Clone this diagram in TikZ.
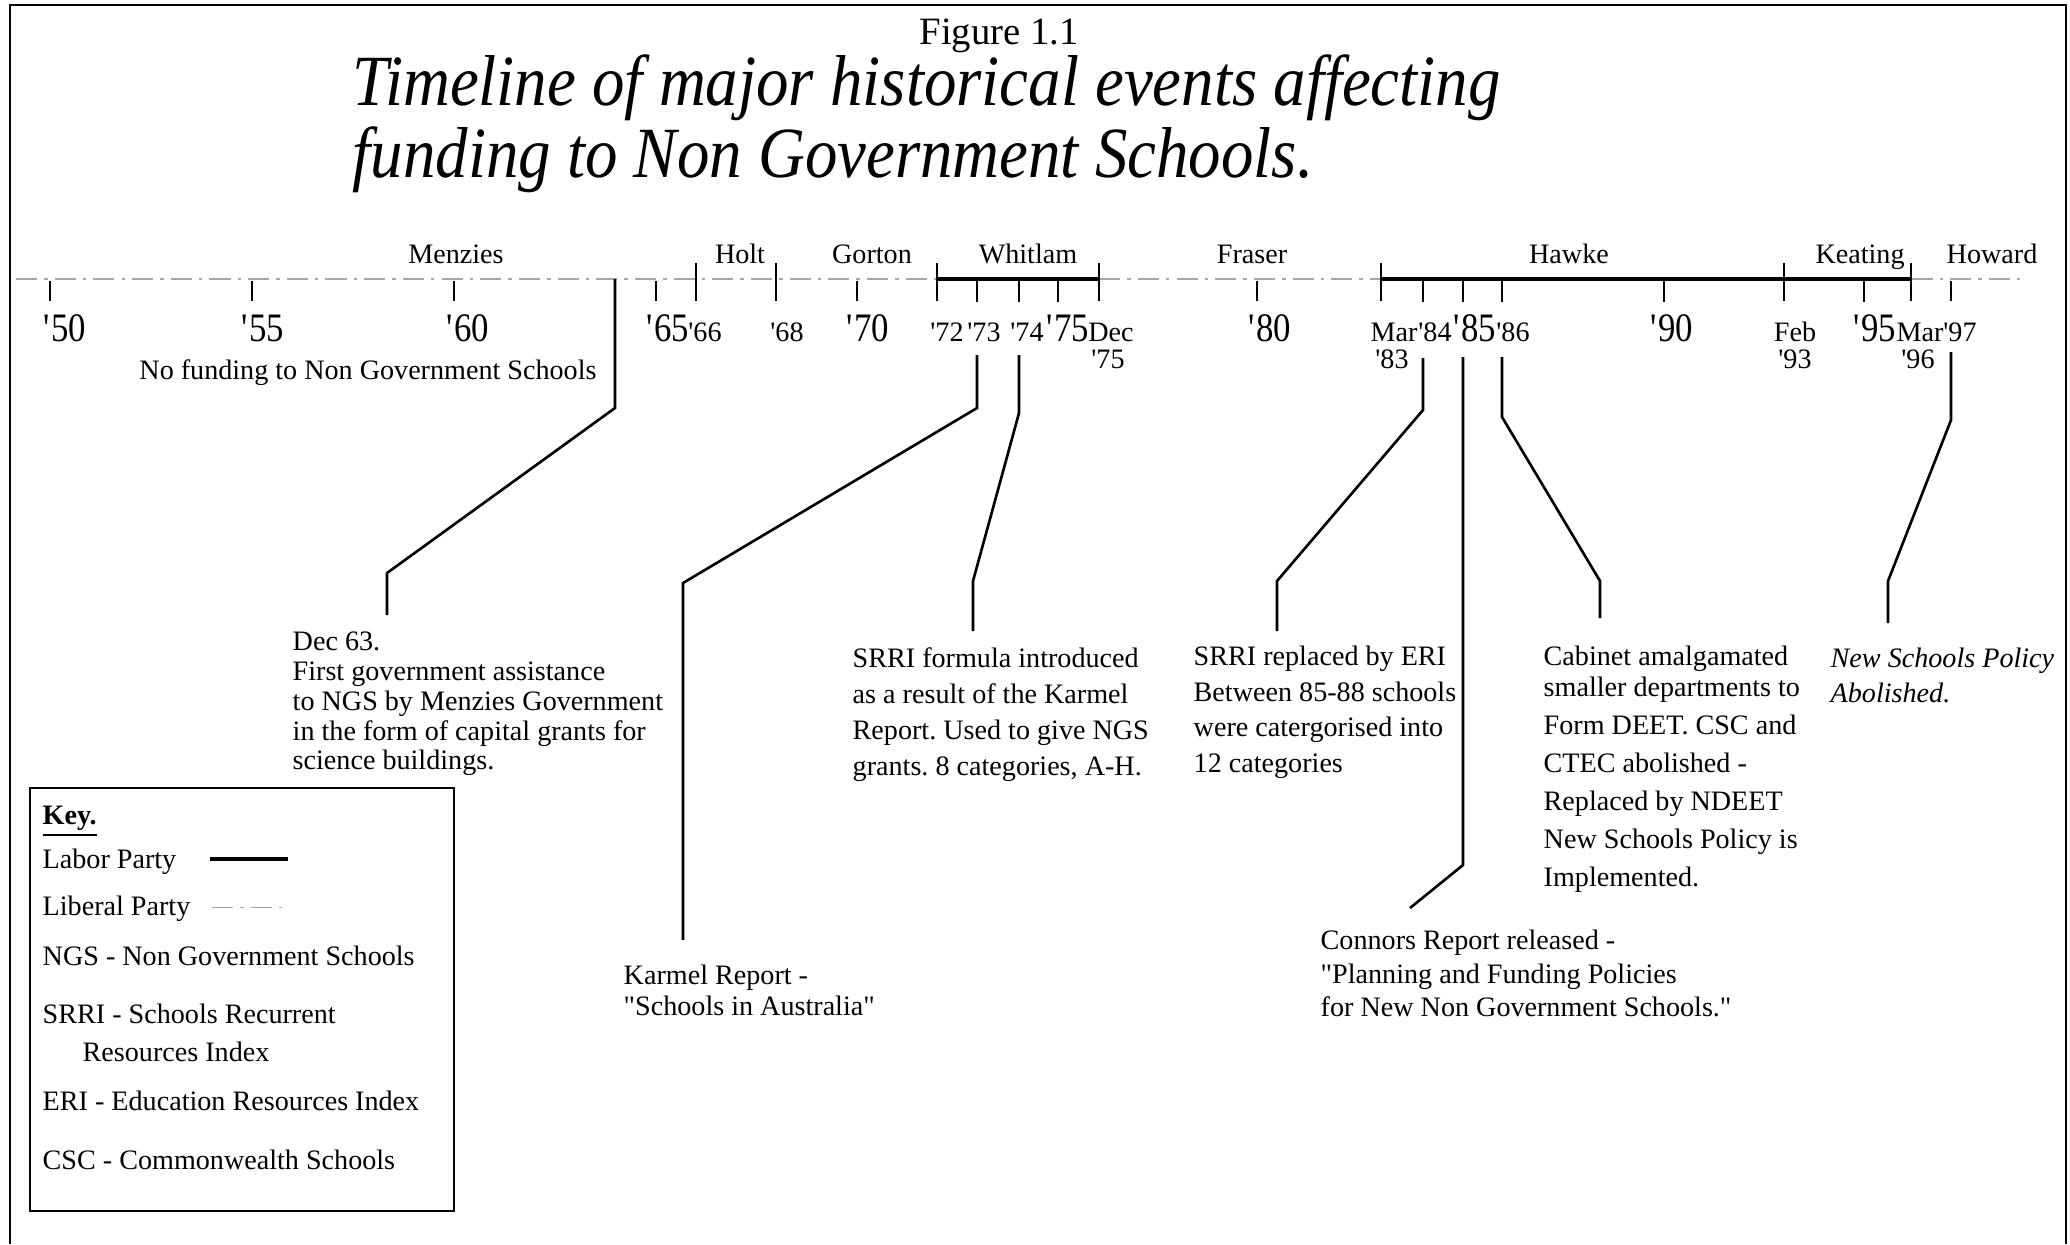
\documentclass[tikz,border=0pt]{standalone}
\usepackage{fontspec}
\setmainfont{Liberation Serif}
\newfontfamily\narrowserif{Liberation Serif}[FakeStretch=0.86]
\newfontfamily\titleserif{Liberation Serif}[FakeStretch=0.9]
\usepackage{tikz}
\usetikzlibrary{calc,positioning}

\newcommand{\yq}{\textquotesingle}
\newcommand{\dq}{\textquotedbl}
\newcommand{\titlefont}{\titleserif\fontsize{20.5}{20.2}\selectfont\itshape\lineskiplimit=-30pt\relax}

\tikzset{
  body/.style={font=\fontsize{8}{9}\selectfont, inner sep=0pt, align=left, anchor=base west},
  block/.style={inner sep=0pt, align=left, anchor=north west},
  bigyr/.style={font=\narrowserif\fontsize{11.5}{12}\selectfont, inner sep=0pt, anchor=base},
  smallyr/.style={font=\fontsize{8}{9}\selectfont, inner sep=0pt, anchor=base},
  pmname/.style={font=\fontsize{8}{9}\selectfont, inner sep=0pt, anchor=base},
  labor/.style={line width=1.2pt},
  liberal/.style={gray!70, line width=0.3pt, dash pattern=on 6pt off 2pt on 1pt off 2pt},
  yrtick/.style={line width=0.6pt},
  leader/.style={line width=0.75pt},
}

\begin{document}
\frenchspacing
\begin{tikzpicture}[x=0.01cm, y=-0.01cm]
\useasboundingbox (0,0) rectangle (2070,1244);
% frame
\draw[line width=0.5pt] (10,1244) -- (10,5) -- (2066,5) -- (2066,1244);

% heading
\node[font=\fontsize{11}{13}\selectfont, anchor=base, inner sep=0pt] (fig) at (999,44) {Figure 1.1};
\node[font=\titlefont, align=left, anchor=base west, inner sep=0pt] (title) at (352,177) {Timeline of major historical events affecting\\funding to Non Government Schools.};

% the time line
\draw[liberal] (16,279) -- (2020,279);
\draw[labor] (937,279) -- (1099,279);
\draw[labor] (1381,279) -- (1911,279);

\foreach \x in {50,252,454,656,857,1257,1951}
  \draw[yrtick] (\x,281) -- (\x,301);
\foreach \x in {977,1019,1058,1423,1463,1502,1664,1864}
  \draw[yrtick] (\x,279) -- (\x,302);
% change of government
\foreach \x in {696,776,937,1099,1381,1784,1911}
  \draw[yrtick] (\x,263) -- (\x,301);

% prime ministers
\node[pmname] (menzies) at (456,263) {Menzies};
\node[pmname] (holt) at (740,263) {Holt};
\node[pmname] (gorton) at (872,263) {Gorton};
\node[pmname] (whitlam) at (1028,263) {Whitlam};
\node[pmname] (fraser) at (1252,263) {Fraser};
\node[pmname] (hawke) at (1569,263) {Hawke};
\node[pmname] (keating) at (1860,263) {Keating};
\node[pmname] (howard) at (1992,263) {Howard};

% years
\node[bigyr] (y50) at (65,341) {\yq50};
\node[bigyr] (y55) at (263,341) {\yq55};
\node[bigyr] (y60) at (468,341) {\yq60};
\node[bigyr] (y65) at (668,341) {\yq65};
\node[bigyr] (y70) at (868,341) {\yq70};
\node[bigyr] (y75) at (1068,341) {\yq75};
\node[bigyr] (y80) at (1270,341) {\yq80};
\node[bigyr] (y85) at (1475,341) {\yq85};
\node[bigyr] (y90) at (1672,341) {\yq90};
\node[bigyr] (y95) at (1875,341) {\yq95};

\node[smallyr] (y66) at (705,341) {\yq66};
\node[smallyr] (y68) at (787,341) {\yq68};
\node[smallyr] (y72) at (947,341) {\yq72};
\node[smallyr] (y73) at (984,341) {\yq73};
\node[smallyr] (y74) at (1027,341) {\yq74};
\node[smallyr] (dec75) at (1111,341) {Dec};
\node[smallyr] (dec75b) at (1108,368) {\yq75};
\node[smallyr] (mar83) at (1394,341) {Mar};
\node[smallyr] (mar83b) at (1392,368) {\yq83};
\node[smallyr] (y84) at (1435,341) {\yq84};
\node[smallyr] (y86) at (1513,341) {\yq86};
\node[smallyr] (feb93) at (1795,341) {Feb};
\node[smallyr] (feb93b) at (1795,368) {\yq93};
\node[smallyr] (mar96) at (1920,341) {Mar};
\node[smallyr] (mar96b) at (1918,368) {\yq96};
\node[smallyr] (y97) at (1960,341) {\yq97};

\node[body, anchor=base] (nofund) at (368,379) {No funding to Non Government Schools};

% events
\node[block, font=\fontsize{8}{8.5}\selectfont] (dec63) at (292,631) {Dec 63.\\First government assistance\\to NGS by Menzies Government\\in the form of capital grants for\\science buildings.};
\node[block, font=\fontsize{8}{9}\selectfont] (karmel) at (623,964) {Karmel Report -\\\dq Schools in Australia\dq};
\node[block, font=\fontsize{8}{10.2}\selectfont] (srri) at (852,647) {SRRI formula introduced\\as a result of the Karmel\\Report. Used to give NGS\\grants. 8 categories, A-H.};
\node[block, font=\fontsize{8}{10.2}\selectfont] (eri) at (1193,645) {SRRI replaced by ERI\\Between 85-88 schools\\were catergorised into\\12 categories};
\node[block, font=\fontsize{8}{9.6}\selectfont] (connors) at (1320,929) {Connors Report released -\\\dq Planning and Funding Policies\\for New Non Government Schools.\dq};
\node[block, font=\fontsize{8}{10.8}\selectfont] (cabinet) at (1543,645) {Cabinet amalgamated\\[-2pt]smaller departments to\\Form DEET. CSC and\\CTEC abolished -\\Replaced by NDEET\\New Schools Policy is\\Implemented.};
\node[block, font=\fontsize{8}{10}\selectfont\itshape] (nsp) at (1830,647) {New Schools Policy\\Abolished.};

% leader lines
\coordinate (s63) at (615,279);   \coordinate (e63) at (387,615);
\coordinate (s73) at (977,355);   \coordinate (e73) at (683,940);
\coordinate (s74) at (1019,355);  \coordinate (e74) at (973,631);
\coordinate (s84) at (1423,358);  \coordinate (e84) at (1277,631);
\coordinate (s85) at (1463,357);  \coordinate (e85) at (1410,908);
\coordinate (s86) at (1502,357);  \coordinate (e86) at (1600,618);
\coordinate (s97) at (1951,352);  \coordinate (e97) at (1888,623);

\draw[leader] (s63) -- ++(0,129) -- ($(e63)+(0,-42)$) -- (e63);
\draw[leader] (s73) -- ++(0,53) -- ($(e73)+(0,-357)$) -- (e73);
\draw[leader] (s74) -- ++(0,58) -- ($(e74)+(0,-50)$) -- (e74);
\draw[leader] (s84) -- ++(0,52) -- ($(e84)+(0,-50)$) -- (e84);
\draw[leader] (s85) -- ++(0,508) -- (e85);
\draw[leader] (s86) -- ++(0,60) -- ($(e86)+(0,-37)$) -- (e86);
\draw[leader] (s97) -- ++(0,68) -- ($(e97)+(0,-42)$) -- (e97);

% key
\draw[line width=0.5pt] (30,788) rectangle (454,1211);
\node[body] (keyhead) at (42,824) {\underline{\textbf{Key.}}};
\node[body] (labkey) at (42,868) {Labor Party};
\node[body] (libkey) at (42,915) {Liberal Party};
\draw[labor] (210,859) -- (288,859);
\draw[liberal] (212,907) -- (285,907);
\node[body] (ngskey) at (42,965) {NGS - Non Government Schools};
\node[body] (srrikey) at (42,1023) {SRRI - Schools Recurrent};
\node[body] (srrikeyb) at (82,1061) {Resources Index};
\node[body] (erikey) at (42,1110) {ERI - Education Resources Index};
\node[body] (csckey) at (42,1169) {CSC - Commonwealth Schools};
\end{tikzpicture}
\end{document}
